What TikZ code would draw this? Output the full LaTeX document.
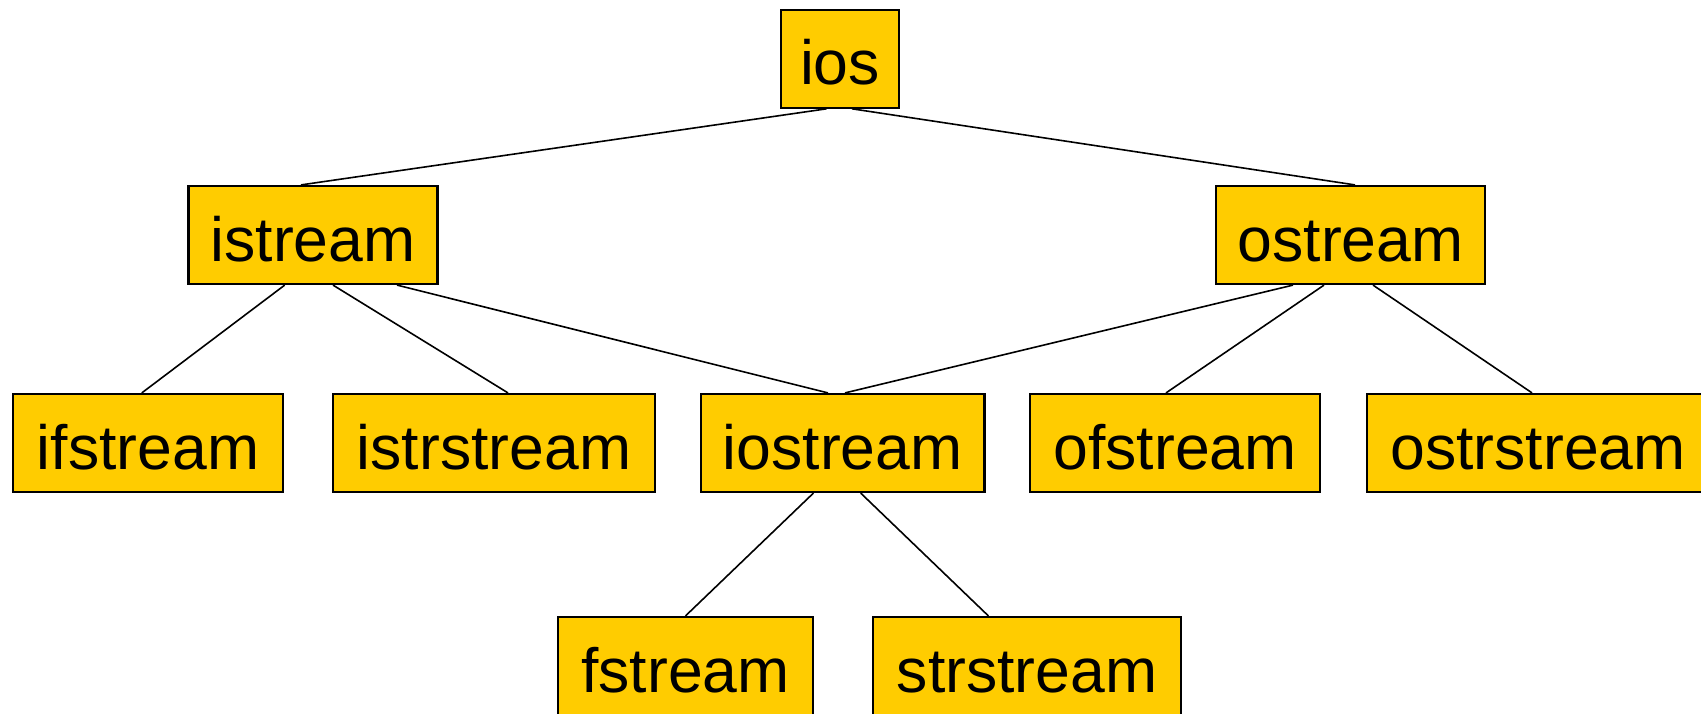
\documentclass[tikz,border=0pt]{standalone}
\usepackage{fontspec}
\setmainfont{Liberation Sans}
\usetikzlibrary{calc}
\definecolor{boxyellow}{RGB}{255,204,0}
\tikzset{
  cls/.style={draw=black, line width=1.1pt, fill=boxyellow, inner sep=0pt,
    minimum height=49pt, text height=26pt, text depth=0pt,
    font=\fontsize{31.25}{37}\selectfont},
  link/.style={draw=black, line width=0.8pt}
}
\begin{document}
\begin{tikzpicture}[x=0.5pt,y=-0.5pt]
\useasboundingbox (0,0) rectangle (1701,713);
\clip (0,0) rectangle (1701,713);
\fill[white] (0,0) rectangle (1701,713);
\node[cls, minimum width=59pt]    (ios)        at (840,58.7)  {ios};
\node[cls, minimum width=124.5pt] (istream)    at (313,235)   {istream};
\node[cls, minimum width=134.5pt] (ostream)    at (1350.5,235) {ostream};
\node[cls, minimum width=135pt]   (ifstream)   at (148,443)   {ifstream};
\node[cls, minimum width=161.25pt] (istrstream) at (494,443)  {istrstream};
\node[cls, minimum width=141.75pt] (iostream)  at (842.7,443) {iostream};
\node[cls, minimum width=144.75pt] (ofstream)  at (1175,443)  {ofstream};
\node[cls, minimum width=171pt]   (ostrstream) at (1538,443)  {ostrstream};
\node[cls, minimum width=127.5pt] (fstream)    at (685.5,666) {fstream};
\node[cls, minimum width=154pt]   (strstream)  at (1027,666)  {strstream};
\draw[link] ($(ios.south)+(-13.4,0)$) -- ($(istream.north)+(-12,0)$);
\draw[link] ($(ios.south)+(12,0)$) -- ($(ostream.north)+(4.5,0)$);
\draw[link] ($(istream.south)+(-28.3,0)$) -- ($(ifstream.north)+(-6.2,0)$);
\draw[link] ($(istream.south)+(20,0)$) -- ($(istrstream.north)+(14,0)$);
\draw[link] ($(istream.south)+(84,0)$) -- ($(iostream.north)+(-14.7,0)$);
\draw[link] ($(ostream.south)+(-57.5,0)$) -- ($(iostream.north)+(2.3,0)$);
\draw[link] ($(ostream.south)+(-26.5,0)$) -- ($(ofstream.north)+(-9,0)$);
\draw[link] ($(ostream.south)+(22.5,0)$) -- ($(ostrstream.north)+(-6,0)$);
\draw[link] ($(iostream.south)+(-29.3,0)$) -- (fstream.north);
\draw[link] ($(iostream.south)+(18,0)$) -- ($(strstream.north)+(-38.6,0)$);
\end{tikzpicture}
\end{document}
